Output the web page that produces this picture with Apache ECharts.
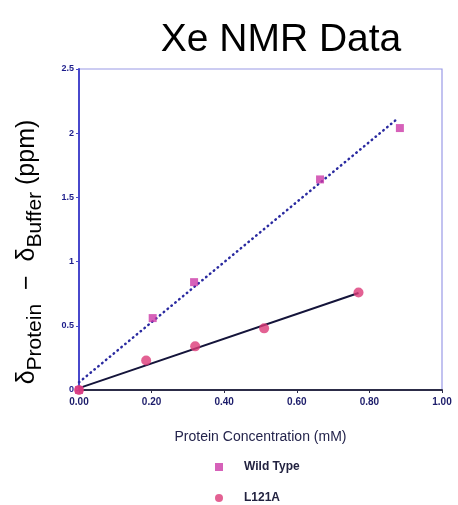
<!DOCTYPE html>
<html>
<head>
<meta charset="utf-8">
<script src="https://cdn.jsdelivr.net/npm/echarts@6/dist/echarts.min.js"></script>
<style>html,body{margin:0;padding:0;background:#fff}#c{width:458px;height:505px}</style>
</head>
<body>
<div id="c"></div>
<script>
// Data
var wildType = [[0.00, 0.00], [0.203, 0.56], [0.317, 0.84], [0.664, 1.64], [0.884, 2.04]];
var l121a = [[0.00, 0.00], [0.185, 0.23], [0.320, 0.34], [0.510, 0.48], [0.770, 0.76]];
var wildTypeFit = [[0.00, 0.06], [0.876, 2.11]];
var l121aFit = [[0.00, 0.015], [0.770, 0.755]];
var yTicks = [0, 0.5, 1, 1.5, 2, 2.5];
var xTicks = [0, 0.2, 0.4, 0.6, 0.8, 1.0];

var chart = echarts.init(document.getElementById('c'));
chart.setOption({
  animation: false,
  backgroundColor: '#fff',
  title: {
    text: 'Xe NMR Data',
    left: 276, top: 16, textAlign: 'center',
    textStyle: {fontFamily: 'Liberation Sans', fontSize: 39, fontWeight: 'normal', color: '#000'}
  },
  graphic: [{
    type: 'text', x: 27, y: 252, rotation: Math.PI / 2,
    style: {
      text: '{d|δ}{s|Protein}{d|  −  δ}{s|Buffer}{d| (ppm)}',
      align: 'center', verticalAlign: 'middle',
      rich: {
        d: {fontFamily: 'Liberation Sans', fontSize: 25, fill: '#000', lineHeight: 38, verticalAlign: 'middle'},
        s: {fontFamily: 'Liberation Sans', fontSize: 21, fill: '#000', lineHeight: 38, verticalAlign: 'bottom'}
      }
    }
  }],
  grid: {left: 79, right: 16, top: 69, bottom: 115, show: true, borderColor: '#9a9ae6', borderWidth: 1.2},
  legend: {
    orient: 'vertical', left: 210, top: 456, height: 60, itemGap: 19,
    itemWidth: 8, itemHeight: 8,
    data: [{name: 'Wild Type', icon: 'rect'}, {name: 'L121A', icon: 'circle'}],
    textStyle: {fontFamily: 'Liberation Sans', fontSize: 12, fontWeight: 'bold', color: '#222240', padding: [0, 0, 0, 16]}
  },
  xAxis: {
    type: 'value', min: 0, max: 1, interval: 0.2,
    name: 'Protein Concentration (mM)', nameLocation: 'middle', nameGap: 40,
    nameTextStyle: {fontFamily: 'Liberation Sans', fontSize: 14, color: '#24244c'},
    axisLine: {show: true, lineStyle: {color: '#2c2c48', width: 2}},
    axisTick: {show: true, length: 3, lineStyle: {color: '#2c2c48'}},
    splitLine: {show: false},
    axisLabel: {
      margin: 7, fontFamily: 'Liberation Sans', fontSize: 10, fontWeight: 'bold', color: '#1c1c6a',
      formatter: function (v) { return xTicks.indexOf(Math.round(v * 10) / 10) >= 0 ? v.toFixed(2) : ''; }
    }
  },
  yAxis: {
    type: 'value', min: 0, max: 2.5, interval: 0.5,
    axisLine: {show: true, lineStyle: {color: '#4848cc', width: 2}},
    axisTick: {show: true, length: 3, lineStyle: {color: '#4848cc'}},
    splitLine: {show: false},
    axisLabel: {
      margin: 5, fontFamily: 'Liberation Sans', fontSize: 9, fontWeight: 'bold', color: '#1c1c8a',
      formatter: function (v) { return yTicks.indexOf(v) >= 0 ? String(v) : ''; }
    }
  },
  series: [
    {
      name: 'wtFit', type: 'line', data: wildTypeFit, symbol: 'none', silent: true,
      lineStyle: {color: '#2a2aa0', width: 2.5, type: [0.5, 4.5], cap: 'round'}, z: 2
    },
    {
      name: 'mutFit', type: 'line', data: l121aFit, symbol: 'none', silent: true,
      lineStyle: {color: '#14143a', width: 2}, z: 2
    },
    {
      name: 'Wild Type', type: 'scatter', data: wildType, symbol: 'rect', symbolSize: 8,
      itemStyle: {color: '#cc3aa8'}, z: 3
    },
    {
      name: 'L121A', type: 'scatter', data: l121a, symbol: 'circle', symbolSize: 10,
      itemStyle: {color: '#dc3a78'}, z: 3
    }
  ]
});
</script>
</body>
</html>
